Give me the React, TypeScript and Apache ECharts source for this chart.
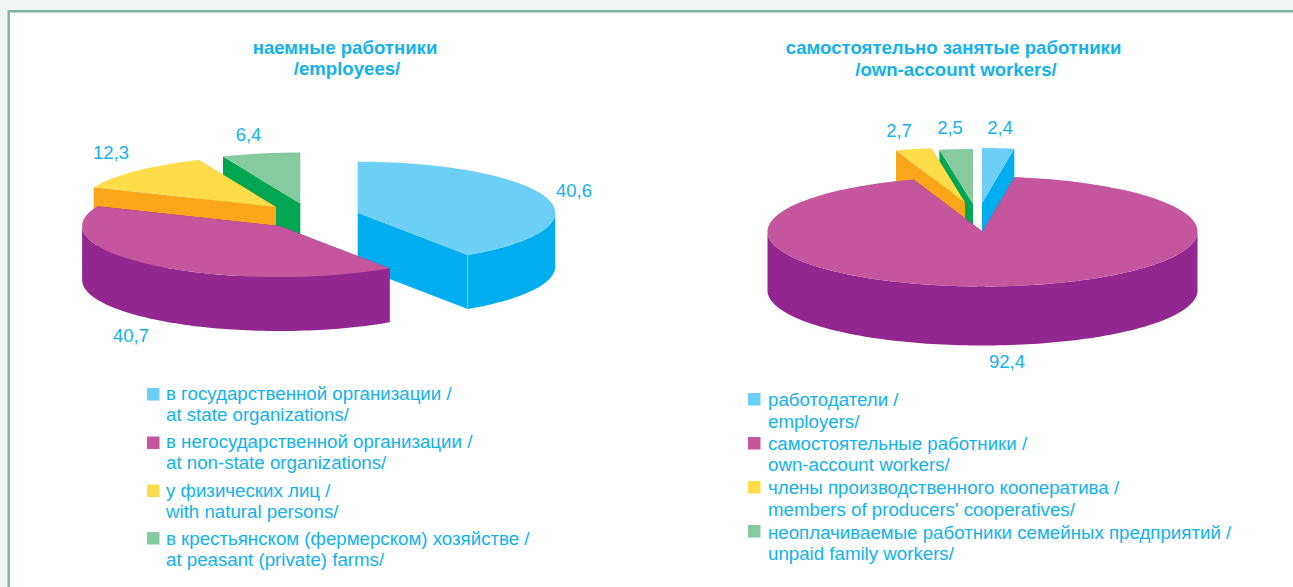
import React, { useEffect, useRef } from "react";
import * as echarts from "echarts";

const employeeValues = [40.6, 40.7, 12.3, 6.4];
const ownAccountValues = [2.4, 92.4, 2.7, 2.5];

const employeeTitle = ["наемные работники", "/employees/"];
const ownAccountTitle = ["самостоятельно занятые работники", "/own-account workers/"];

const employeeLegend = [
  ["в государственной организации /", "at state organizations/"],
  ["в негосударственной организации /", "at non-state organizations/"],
  ["у физических лиц /", "with natural persons/"],
  ["в крестьянском (фермерском) хозяйстве /", "at peasant (private) farms/"],
];
const ownAccountLegend = [
  ["работодатели /", "employers/"],
  ["самостоятельные работники /", "own-account workers/"],
  ["члены производственного кооператива /", "members of producers' cooperatives/"],
  ["неоплачиваемые работники семейных предприятий /", "unpaid family workers/"],
];

const topColors = ["#6dcff6", "#c4569d", "#ffdc4a", "#86cb9f"];
const sideColors = ["#00aeef", "#92278f", "#faa61a", "#00a651"];
const textColor = "#12b2ee";
const font = '"Liberation Sans", Arial, sans-serif';

// Layout only: where each exploded slice has its centre, and label anchors.
const employeePie = {
  rx: 197.5, ry: 51, depth: 54,
  centers: [[357.7, 212.7], [279.6, 226], [276, 207], [300.3, 203.5]],
  labels: [[574, 190], [131, 335], [111, 152], [248.5, 134]],
};
const ownAccountPie = {
  rx: 215, ry: 55, depth: 59,
  centers: [[982, 203], [982.5, 231.5], [965, 202.5], [973, 204]],
  labels: [[1000, 127], [1007, 361], [899, 130], [950, 127]],
};
// stacking rank by slice index: blue lowest, then green, yellow, magenta on top
const paintOrder = [0, 3, 2, 1];

function pieSeries(name: string, values: number[], pie: typeof employeePie) {
  const total = values.reduce((a, b) => a + b, 0);
  const starts: number[] = [];
  values.reduce((acc, v, i) => {
    starts[i] = acc;
    return acc + v;
  }, 0);
  return {
    type: "custom",
    name,
    coordinateSystem: "none",
    silent: true,
    data: values.map((v) => [v]),
    renderItem: (params: any, api: any) => {
      const i = params.dataIndex;
      const v = api.value(0);
      const a0 = (starts[i] / total) * 360;
      const a1 = a0 + (v / total) * 360;
      const [cx, cy] = pie.centers[i];
      const { rx, ry, depth } = pie;
      const at = (deg: number, drop = 0) => {
        const r = (deg * Math.PI) / 180;
        return [cx + rx * Math.sin(r), cy - ry * Math.cos(r) + drop];
      };
      const arc = (from: number, to: number, drop = 0) => {
        const n = Math.max(2, Math.ceil((to - from) / 1.5));
        const out: number[][] = [];
        for (let k = 0; k <= n; k++) out.push(at(from + ((to - from) * k) / n, drop));
        return out;
      };
      const z = paintOrder[i] * 10;
      const children: any[] = [];
      const radial = (deg: number) => ({
        type: "polygon",
        z2: z,
        shape: { points: [[cx, cy], at(deg), at(deg, depth), [cx, cy + depth]] },
        style: { fill: sideColors[i] },
      });
      children.push(radial(a0), radial(a1));
      const from = Math.max(a0, 90);
      const to = Math.min(a1, 270);
      if (to > from) {
        children.push({
          type: "polygon",
          z2: z + 1,
          shape: { points: [...arc(from, to), ...arc(from, to, depth).reverse()] },
          style: { fill: sideColors[i] },
        });
      }
      if (a1 > 90 && a1 < 270) {
        const p = at(a1);
        children.push({
          type: "line",
          z2: z + 2,
          shape: { x1: p[0], y1: p[1], x2: p[0], y2: p[1] + depth },
          style: { stroke: topColors[i], lineWidth: 1 },
        });
      }
      children.push({
        type: "polygon",
        z2: z + 3,
        shape: { points: [[cx, cy], ...arc(a0, a1)] },
        style: { fill: topColors[i] },
      });
      return { type: "group", children };
    },
  };
}

function textEl(text: string, x: number, y: number, size: number, align: string, bold = false) {
  return {
    type: "text",
    silent: true,
    x,
    y,
    style: {
      text,
      fill: textColor,
      font: `${bold ? "bold " : ""}${size}px ${font}`,
      textAlign: align,
      textVerticalAlign: "middle",
    },
  };
}

function legendEls(
  entries: string[][],
  squareX: number,
  textX: number,
  squareY: number[],
  lineY: number[][],
) {
  const out: any[] = [];
  entries.forEach((lines, i) => {
    out.push({
      type: "rect",
      silent: true,
      shape: { x: squareX, y: squareY[i], width: 12.5, height: 12.5 },
      style: { fill: topColors[i] },
    });
    lines.forEach((line, j) => out.push(textEl(line, textX, lineY[i][j], 18.7, "left")));
  });
  return out;
}

export default function App() {
  const ref = useRef<HTMLDivElement>(null);
  useEffect(() => {
    const chart = echarts.init(ref.current!, undefined, { renderer: "svg" });
    const fmt = (v: number) => String(v).replace(".", ",");
    chart.setOption({
      animation: false,
      backgroundColor: "#f0f5f3",
      graphic: [
        {
          type: "rect",
          silent: true,
          z: -10,
          shape: { x: 7.5, y: 10, width: 1285.5, height: 577 },
          style: { fill: "#82b4a0" },
        },
        {
          type: "rect",
          silent: true,
          z: -9,
          shape: { x: 10, y: 12.5, width: 1283, height: 575 },
          style: { fill: "#ffffff" },
        },
        textEl(employeeTitle[0], 345, 47.5, 18.6, "center", true),
        textEl(employeeTitle[1], 347, 68.5, 18.6, "center", true),
        textEl(ownAccountTitle[0], 953.5, 47.5, 18.6, "center", true),
        textEl(ownAccountTitle[1], 956, 69.5, 18.6, "center", true),
        ...employeeValues.map((v, i) =>
          textEl(fmt(v), employeePie.labels[i][0], employeePie.labels[i][1], 18.5, "center"),
        ),
        ...ownAccountValues.map((v, i) =>
          textEl(fmt(v), ownAccountPie.labels[i][0], ownAccountPie.labels[i][1], 18.5, "center"),
        ),
        ...legendEls(
          employeeLegend,
          147,
          166,
          [388, 436.5, 484.5, 532],
          [[393, 414], [441, 462], [490, 511], [538, 559]],
        ),
        ...legendEls(
          ownAccountLegend,
          748,
          768,
          [393, 437, 481, 525],
          [[399, 421], [443, 464], [487, 509], [532, 553]],
        ),
      ],
      series: [
        pieSeries("наемные работники", employeeValues, employeePie),
        pieSeries("самостоятельно занятые работники", ownAccountValues, ownAccountPie),
      ],
    });
    return () => chart.dispose();
  }, []);
  return (
    <div
      ref={ref}
      style={{ position: "fixed", left: 0, top: 0, width: 1293, height: 587 }}
    />
  );
}
